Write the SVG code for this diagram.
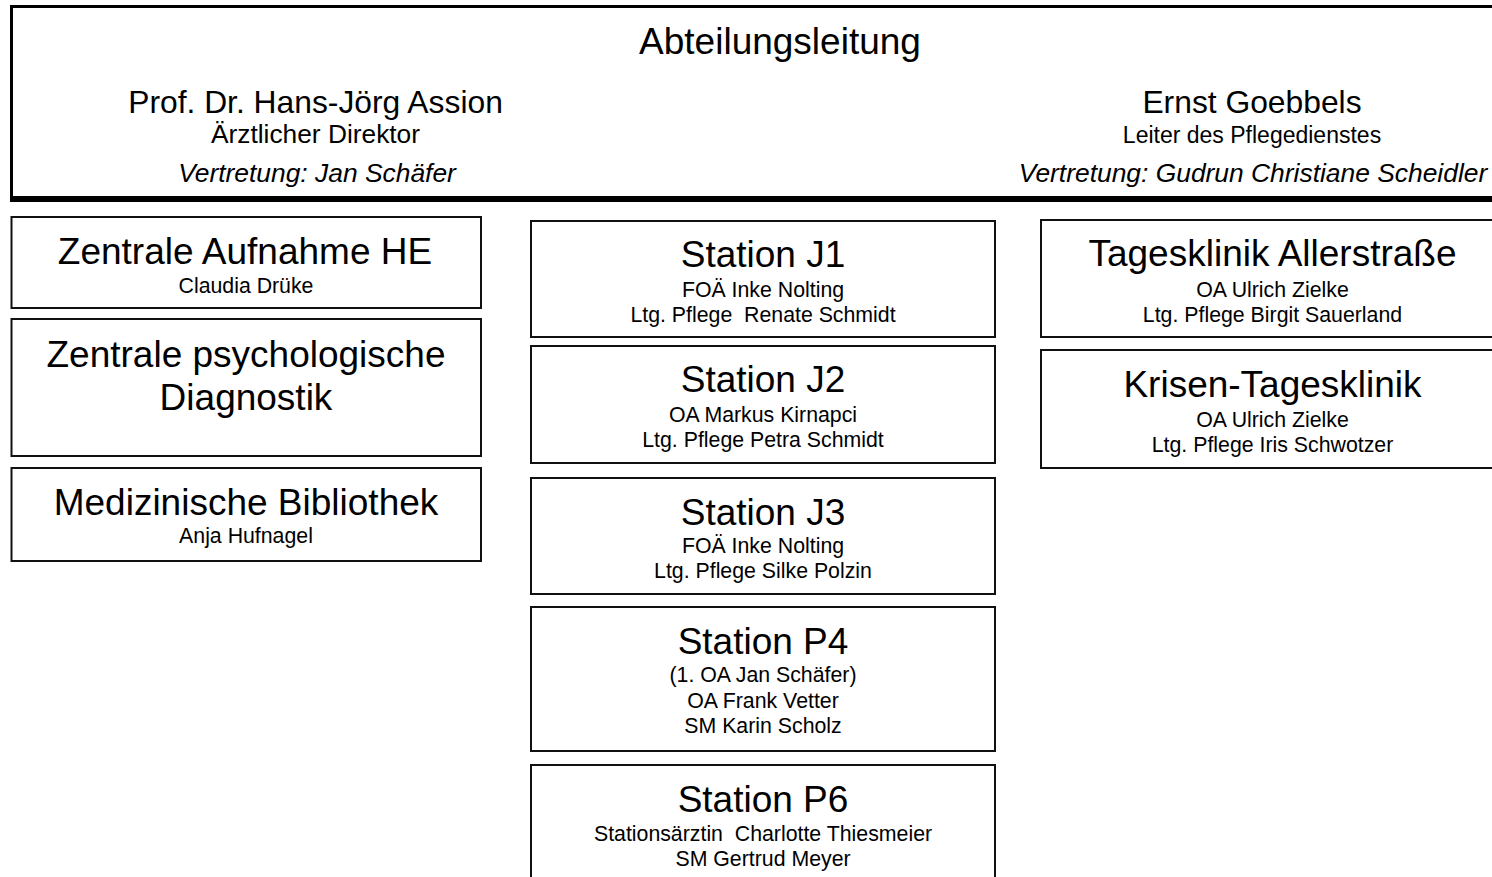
<svg xmlns="http://www.w3.org/2000/svg" width="1492" height="877" viewBox="0 0 1492 877">
<style>
  text { font-family: "Liberation Sans", Arial, sans-serif; fill: #000; text-anchor: middle; }
  .box { fill: #fff; stroke: #111; stroke-width: 2; }
  .t { font-size: 37px; }
  .s { font-size: 21.3px; }
  .name { font-size: 31.8px; }
  .role1 { font-size: 26.3px; }
  .role2 { font-size: 23px; }
  .dep { font-size: 26.4px; font-style: italic; }
</style>
<rect width="1492" height="877" fill="#fff"/>
<g id="abteilungsleitung">
  <rect x="11.5" y="6.5" width="1540" height="191" fill="#fff" stroke="#000" stroke-width="3"/>
  <line x1="10" y1="199" x2="1552" y2="199" stroke="#000" stroke-width="6"/>
  <text class="t" x="780" y="54">Abteilungsleitung</text>
  <text class="name" x="315.5" y="113">Prof. Dr. Hans-Jörg Assion</text>
  <text class="role1" x="315.5" y="143">Ärztlicher Direktor</text>
  <text class="dep" x="317" y="182">Vertretung: Jan Schäfer</text>
  <text class="name" x="1252" y="113">Ernst Goebbels</text>
  <text class="role2" x="1252" y="143">Leiter des Pflegedienstes</text>
  <text class="dep" x="1253" y="182">Vertretung: Gudrun Christiane Scheidler</text>
</g>
<g id="connectors"></g>
<g id="zentrale-aufnahme">
  <rect class="box" x="11.5" y="217" width="469.5" height="91"/>
  <text class="t" x="245" y="264">Zentrale Aufnahme HE</text>
  <text class="s" x="246" y="293">Claudia Drüke</text>
</g>
<g id="psych-diagnostik">
  <rect class="box" x="11.5" y="319" width="469.5" height="137"/>
  <text class="t" x="246" y="367">Zentrale psychologische</text>
  <text class="t" x="246" y="410">Diagnostik</text>
</g>
<g id="bibliothek">
  <rect class="box" x="11.5" y="468" width="469.5" height="93"/>
  <text class="t" x="246" y="515">Medizinische Bibliothek</text>
  <text class="s" x="246" y="543">Anja Hufnagel</text>
</g>
<g id="station-j1">
  <rect class="box" x="531" y="221" width="464" height="116"/>
  <text class="t" x="763" y="267">Station J1</text>
  <text class="s" x="763" y="297">FOÄ Inke Nolting</text>
  <text class="s" x="763" y="322" xml:space="preserve">Ltg. Pflege  Renate Schmidt</text>
</g>
<g id="station-j2">
  <rect class="box" x="531" y="346" width="464" height="117"/>
  <text class="t" x="763" y="392">Station J2</text>
  <text class="s" x="763" y="422">OA Markus Kirnapci</text>
  <text class="s" x="763" y="447">Ltg. Pflege Petra Schmidt</text>
</g>
<g id="station-j3">
  <rect class="box" x="531" y="478" width="464" height="116"/>
  <text class="t" x="763" y="525">Station J3</text>
  <text class="s" x="763" y="553">FOÄ Inke Nolting</text>
  <text class="s" x="763" y="578">Ltg. Pflege Silke Polzin</text>
</g>
<g id="station-p4">
  <rect class="box" x="531" y="607" width="464" height="144"/>
  <text class="t" x="763" y="654">Station P4</text>
  <text class="s" x="763" y="682">(1. OA Jan Schäfer)</text>
  <text class="s" x="763" y="708">OA Frank Vetter</text>
  <text class="s" x="763" y="733">SM Karin Scholz</text>
</g>
<g id="station-p6">
  <rect class="box" x="531" y="765" width="464" height="140"/>
  <text class="t" x="763" y="812">Station P6</text>
  <text class="s" x="763" y="841" xml:space="preserve">Stationsärztin  Charlotte Thiesmeier</text>
  <text class="s" x="763" y="866">SM Gertrud Meyer</text>
</g>
<g id="tagesklinik-allerstrasse">
  <rect class="box" x="1041" y="220" width="470" height="117"/>
  <text class="t" x="1272.5" y="266">Tagesklinik Allerstraße</text>
  <text class="s" x="1272.5" y="297">OA Ulrich Zielke</text>
  <text class="s" x="1272.5" y="322">Ltg. Pflege Birgit Sauerland</text>
</g>
<g id="krisen-tagesklinik">
  <rect class="box" x="1041" y="350" width="470" height="118"/>
  <text class="t" x="1272.5" y="397">Krisen-Tagesklinik</text>
  <text class="s" x="1272.5" y="427">OA Ulrich Zielke</text>
  <text class="s" x="1272.5" y="452">Ltg. Pflege Iris Schwotzer</text>
</g>
</svg>
